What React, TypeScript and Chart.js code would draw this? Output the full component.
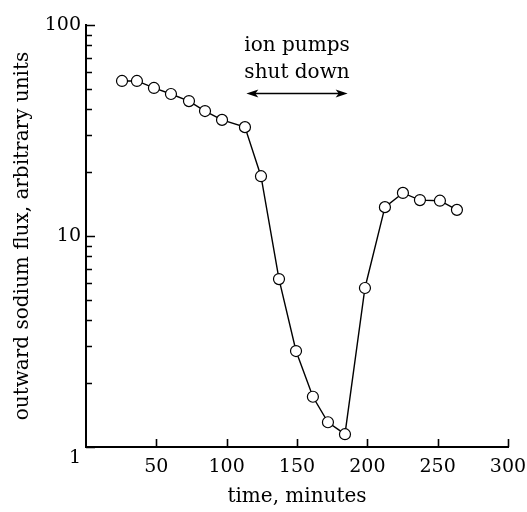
import React, { useEffect, useRef } from 'react';
import { Chart, registerables } from 'chart.js';

Chart.register(...registerables);

// Data
const TIME_MIN = [25.6, 36.2, 48.3, 60.4, 73.2, 84.6, 96.7, 113, 124.4, 137.2, 149.3, 161.3, 172, 184.1, 198.3, 212.5, 225.3, 237.4, 251.6, 263.7];
const SODIUM_FLUX = [54.3, 54.3, 50.3, 47.1, 43.6, 39.1, 35.5, 32.8, 19.2, 6.25, 2.85, 1.73, 1.31, 1.15, 5.67, 13.7, 16.0, 14.8, 14.7, 13.3];
const X_TICKS = [50, 100, 150, 200, 250, 300];
const Y_LABELS = [1, 10, 100];
const SHUTDOWN_RANGE = [114, 186];
const ARROW_LEVEL = 47.6;
const ANNOTATION_LINES = ['ion pumps', 'shut down'];

const FONT = "'DejaVu Serif', serif";

const inwardTicks = {
  id: 'inwardTicks',
  afterDraw(chart: any) {
    const { ctx, chartArea, scales } = chart;
    const x = scales.x;
    const y = scales.y;
    ctx.save();
    ctx.strokeStyle = '#000';
    ctx.lineWidth = 1.6;
    ctx.beginPath();
    for (const v of X_TICKS) {
      const px = Math.round(x.getPixelForValue(v)) + 0.5;
      ctx.moveTo(px, chartArea.bottom);
      ctx.lineTo(px, chartArea.bottom - 8);
    }
    const yVals: number[] = [];
    for (const d of [1, 10]) for (let m = 1; m <= 9; m++) yVals.push(m * d);
    yVals.push(100);
    for (const v of yVals) {
      const py = Math.round(y.getPixelForValue(v)) + 0.5;
      const major = Y_LABELS.includes(v);
      ctx.moveTo(chartArea.left, py);
      ctx.lineTo(chartArea.left + (major ? 9 : 6), py);
    }
    ctx.stroke();

    // annotation: ion pumps shut down
    const x0 = x.getPixelForValue(SHUTDOWN_RANGE[0]);
    const x1 = x.getPixelForValue(SHUTDOWN_RANGE[1]);
    const ay = Math.round(y.getPixelForValue(ARROW_LEVEL)) + 0.5;
    ctx.lineWidth = 1.3;
    ctx.beginPath();
    ctx.moveTo(x0 + 4, ay);
    ctx.lineTo(x1 - 4, ay);
    ctx.stroke();
    ctx.fillStyle = '#000';
    const head = (tipX: number, dir: number) => {
      ctx.beginPath();
      ctx.moveTo(tipX, ay);
      ctx.lineTo(tipX - dir * 12, ay - 4);
      ctx.lineTo(tipX - dir * 9, ay);
      ctx.lineTo(tipX - dir * 12, ay + 4);
      ctx.closePath();
      ctx.fill();
    };
    head(x0, -1);
    head(x1, 1);
    ctx.font = `20px ${FONT}`;
    ctx.textAlign = 'center';
    ctx.textBaseline = 'middle';
    const cx = (x0 + x1) / 2;
    ctx.fillText(ANNOTATION_LINES[0], cx, ay - 48);
    ctx.fillText(ANNOTATION_LINES[1], cx, ay - 21);
    ctx.restore();
  },
};

export default function App() {
  const ref = useRef<HTMLCanvasElement>(null);
  useEffect(() => {
    if (!ref.current) return;
    const chart = new Chart(ref.current, {
      type: 'line',
      data: {
        datasets: [
          {
            data: TIME_MIN.map((t, i) => ({ x: t, y: SODIUM_FLUX[i] })),
            borderColor: '#000',
            borderWidth: 1.4,
            pointRadius: 5.5,
            pointBorderWidth: 1.2,
            pointBackgroundColor: '#fff',
            pointBorderColor: '#000',
            fill: false,
            tension: 0,
          },
        ],
      },
      options: {
        animation: false,
        responsive: false,
        layout: { padding: { left: 0, right: 19, top: 25, bottom: 0 } },
        plugins: { legend: { display: false }, tooltip: { enabled: false } },
        scales: {
          x: {
            type: 'linear',
            min: 0,
            max: 300,
            afterFit: (s: any) => { s.height = 65; s.paddingLeft = 0; s.paddingRight = 0; },
            afterBuildTicks: (s: any) => { s.ticks = X_TICKS.map((v) => ({ value: v })); },
            grid: { display: false, drawTicks: false },
            border: { display: true, color: '#000', width: 2 },
            ticks: {
              color: '#000',
              font: { family: FONT, size: 19 },
              padding: 9,
              maxRotation: 0,
              callback: (v: any) => String(v),
            },
            title: {
              display: true,
              text: 'time, minutes',
              color: '#000',
              font: { family: FONT, size: 20, lineHeight: 1.2 },
              padding: { top: 0, bottom: 3 },
            },
          },
          y: {
            type: 'logarithmic',
            min: 1,
            max: 100,
            afterFit: (s: any) => { s.width = 86; s.paddingTop = 0; s.paddingBottom = 0; },
            afterBuildTicks: (s: any) => { s.ticks = Y_LABELS.map((v) => ({ value: v })); },
            grid: { display: false, drawTicks: false },
            border: { display: true, color: '#000', width: 2 },
            ticks: {
              color: '#000',
              font: { family: FONT, size: 19 },
              padding: 5,
              callback: (v: any) => (v === 1 ? ['', '1'] : String(v)),
            },
            title: {
              display: true,
              text: 'outward sodium flux, arbitrary units',
              color: '#000',
              font: { family: FONT, size: 20, lineHeight: 1.2 },
              padding: { top: 11, bottom: 0 },
            },
          },
        },
      },
      plugins: [inwardTicks],
    });
    return () => chart.destroy();
  }, []);
  return (
    <div style={{ position: 'absolute', left: 0, top: 0, width: 527, height: 512, background: '#fff' }}>
      <canvas ref={ref} width={527} height={512} />
    </div>
  );
}
